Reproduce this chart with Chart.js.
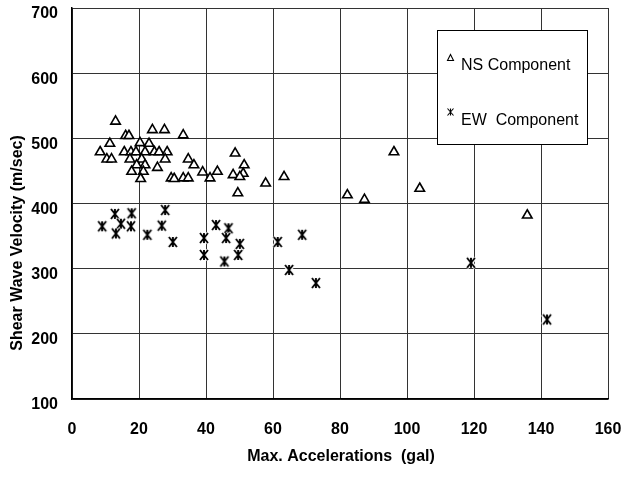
<!DOCTYPE html>
<html>
<head>
<meta charset="utf-8">
<script src="https://cdn.jsdelivr.net/npm/chart.js@4"></script>
<style>
  html, body { margin: 0; padding: 0; background: #fff; }
  canvas { display: block; }
</style>
</head>
<body>
<canvas id="chart" width="635" height="477"></canvas>
<script>
// NS component (triangles)
const nsAcc = [13.0, 16.0, 17.0, 24.0, 27.6, 33.2, 11.3, 20.3, 23.0, 8.4,
  15.6, 17.6, 19.1, 21.8, 24.6, 26.0, 28.4, 10.4, 11.8, 17.3,
  20.8, 27.8, 34.7, 19.3, 21.8, 36.4, 25.5, 17.8, 21.3, 39.0,
  43.4, 20.5, 29.6, 30.5, 33.2, 34.7, 41.2, 48.7, 48.1, 49.5,
  51.4, 51.1, 50.1, 57.8, 63.3, 82.2, 87.3, 96.1, 103.8, 135.9];
const nsVel = [526, 504, 504, 513, 513, 505, 492, 493, 492, 479,
  479, 479, 479, 479, 479, 479, 479, 468, 468, 468,
  468, 468, 468, 459, 459, 459, 455, 449, 449, 448,
  449, 438, 439, 438, 439, 439, 439, 477, 444, 416,
  459, 446, 441, 431, 441, 413, 406, 479, 423, 382];

// EW component (asterisks)
const ewAcc = [12.8, 17.8, 27.8, 9.0, 14.6, 17.6, 26.8, 13.1, 22.5, 30.1,
  43.0, 46.7, 39.4, 46.0, 50.1, 39.4, 45.5, 49.6, 61.4, 68.7,
  64.8, 72.8, 119.1, 141.8];
const ewVel = [384, 385, 390, 365, 369, 365, 366, 354, 352, 341,
  367, 362, 347, 347, 338, 321, 311, 321, 341, 352,
  298, 278, 309, 222];

const xTitle = 'Max. Accelerations  (gal)';
const yTitle = 'Shear Wave Velocity (m/sec)';
const legendLabels = ['NS Component', 'EW  Component'];

const FONT = 'Arial, "Liberation Sans", sans-serif';

function drawAsterisk(ctx, cx, cy, w, h, lw, color) {
  ctx.save();
  ctx.strokeStyle = color || '#000';
  ctx.lineWidth = lw;
  ctx.beginPath();
  ctx.moveTo(cx, cy - h / 2); ctx.lineTo(cx, cy + h / 2);
  ctx.moveTo(cx - w / 2, cy - h / 2); ctx.lineTo(cx + w / 2, cy + h / 2);
  ctx.moveTo(cx + w / 2, cy - h / 2); ctx.lineTo(cx - w / 2, cy + h / 2);
  ctx.stroke();
  ctx.restore();
}

function makeAsterisk() {
  const c = document.createElement('canvas');
  c.width = 14; c.height = 14;
  const g = c.getContext('2d');
  // white halo so grid lines break around the mark, as in the print
  drawAsterisk(g, 7, 7, 9, 10, 4, '#fff');
  drawAsterisk(g, 7, 7, 8, 10, 1.9, '#000');
  return c;
}

function toPoints(xs, ys) {
  return xs.map((x, i) => ({ x: x, y: ys[i] }));
}

// axis titles + boxed legend
const decor = {
  id: 'decor',
  afterDraw(chart) {
    const ctx = chart.ctx;
    ctx.save();
    ctx.fillStyle = '#000';
    ctx.font = 'bold 16px ' + FONT;
    ctx.textAlign = 'center';
    ctx.textBaseline = 'middle';
    ctx.fillText(xTitle, 341, 457);
    ctx.translate(18, 243);
    ctx.rotate(-Math.PI / 2);
    ctx.fillText(yTitle, 0, 0);
    ctx.restore();

    ctx.save();
    ctx.fillStyle = '#fff';
    ctx.fillRect(437, 30, 150, 114);
    ctx.strokeStyle = '#000';
    ctx.lineWidth = 1;
    ctx.strokeRect(437.5, 30.5, 150, 114);
    // triangle marker
    ctx.beginPath();
    ctx.moveTo(450.5, 54.5); ctx.lineTo(453.5, 60.5); ctx.lineTo(447.5, 60.5);
    ctx.closePath();
    ctx.lineWidth = 1.1;
    ctx.stroke();
    drawAsterisk(ctx, 450.5, 112, 6, 7, 1.1);
    ctx.fillStyle = '#000';
    ctx.font = '16px ' + FONT;
    ctx.textAlign = 'left';
    ctx.textBaseline = 'alphabetic';
    ctx.fillText(legendLabels[0], 461, 70);
    ctx.fillText(legendLabels[1], 461, 125);
    ctx.restore();
  }
};

new Chart(document.getElementById('chart').getContext('2d'), {
  type: 'scatter',
  data: {
    datasets: [{
      label: legendLabels[0],
      data: toPoints(nsAcc, nsVel),
      pointStyle: 'triangle',
      pointRadius: 5.5,
      pointBorderWidth: 1.6,
      borderColor: '#000',
      backgroundColor: '#fff'
    }, {
      label: legendLabels[1],
      data: toPoints(ewAcc, ewVel),
      pointStyle: makeAsterisk(),
      pointRadius: 7,
      borderColor: '#000',
      backgroundColor: '#000'
    }]
  },
  options: {
    responsive: false,
    animation: false,
    devicePixelRatio: 1,
    layout: { padding: { left: 0, top: 5, right: 27, bottom: 0 } },
    plugins: { legend: { display: false }, tooltip: { enabled: false } },
    scales: {
      x: {
        type: 'linear',
        min: 0, max: 160,
        ticks: { stepSize: 20, color: '#000', padding: 21, font: { family: FONT, size: 16, weight: 'bold' } },
        grid: { color: '#333', lineWidth: 1, drawTicks: false },
        border: { color: '#000', width: 1.5 },
        afterFit(scale) { scale.height = 78; scale.paddingLeft = 0; scale.paddingRight = 0; }
      },
      y: {
        min: 100, max: 700,
        ticks: { stepSize: 100, color: '#000', padding: 14, labelOffset: 6, font: { family: FONT, size: 16, weight: 'bold' } },
        grid: { color: '#333', lineWidth: 1, drawTicks: false },
        border: { color: '#000', width: 1.5 },
        afterFit(scale) { scale.width = 72; scale.paddingTop = 0; scale.paddingBottom = 0; }
      }
    }
  },
  plugins: [decor]
});
</script>
</body>
</html>
